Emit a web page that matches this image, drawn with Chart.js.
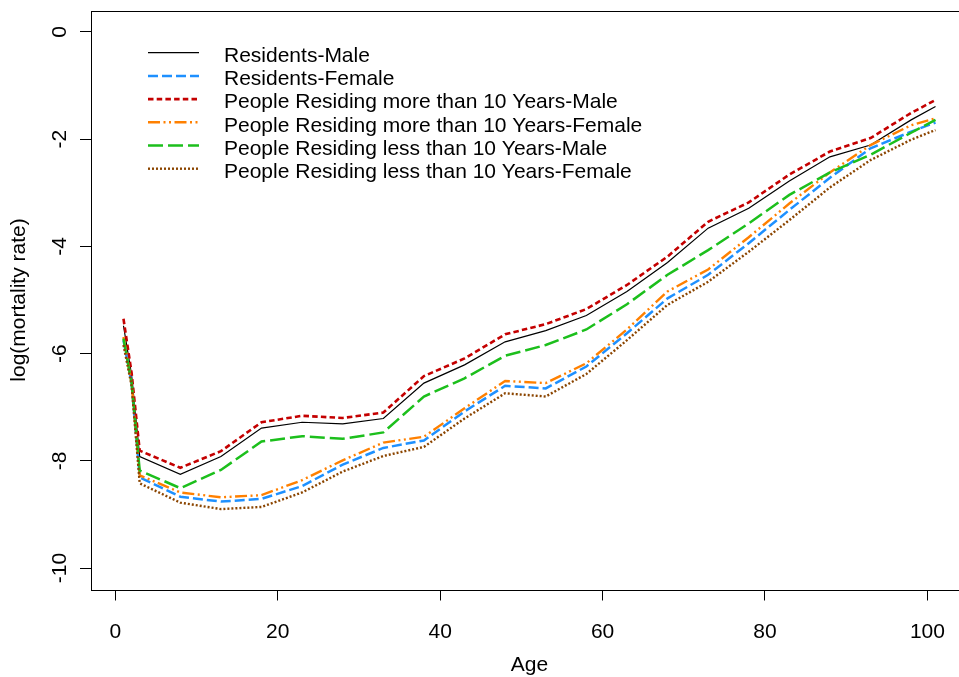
<!DOCTYPE html>
<html>
<head>
<meta charset="utf-8">
<title>log(mortality rate) by Age</title>
<script src="https://cdn.jsdelivr.net/npm/chart.js@4.4.1/dist/chart.umd.min.js"></script>
<style>
  html, body { margin: 0; padding: 0; background: #fff; }
  #wrap { width: 959px; height: 677px; overflow: hidden; position: relative; }
  #chart { display: block; }
</style>
</head>
<body>
<div id="wrap"><canvas id="chart" width="972" height="677"></canvas></div>
<script>
const ages = [1, 2, 3, 8, 13, 18, 23, 28, 33, 38, 43, 48, 53, 58, 63, 68, 73, 78, 83, 88, 93, 98, 101];

const residentsMale = [-5.48, -6.40, -7.92, -8.25, -7.92, -7.39, -7.28, -7.31, -7.21, -6.55, -6.21, -5.78,
  -5.57, -5.29, -4.84, -4.30, -3.66, -3.29, -2.78, -2.33, -2.11, -1.64, -1.39];
const residentsFemale = [-5.75, -6.55, -8.31, -8.67, -8.76, -8.71, -8.47, -8.07, -7.76, -7.62, -7.08, -6.60,
  -6.65, -6.24, -5.62, -4.97, -4.53, -3.94, -3.32, -2.72, -2.17, -1.86, -1.69];
const moreThan10Male = [-5.35, -6.36, -7.81, -8.13, -7.82, -7.28, -7.16, -7.20, -7.10, -6.42, -6.09, -5.64,
  -5.45, -5.17, -4.72, -4.19, -3.54, -3.18, -2.66, -2.23, -1.98, -1.51, -1.27];
const moreThan10Female = [-5.69, -6.55, -8.27, -8.59, -8.68, -8.64, -8.36, -7.99, -7.66, -7.55, -7.02, -6.51,
  -6.55, -6.18, -5.55, -4.84, -4.43, -3.83, -3.20, -2.62, -2.11, -1.74, -1.61];
const lessThan10Male = [-5.72, -6.55, -8.18, -8.51, -8.17, -7.64, -7.54, -7.59, -7.47, -6.80, -6.46, -6.04,
  -5.84, -5.55, -5.08, -4.53, -4.07, -3.57, -3.04, -2.62, -2.29, -1.88, -1.64];
const lessThan10Female = [-5.84, -6.60, -8.42, -8.78, -8.90, -8.86, -8.59, -8.20, -7.91, -7.74, -7.21, -6.74,
  -6.80, -6.38, -5.75, -5.09, -4.66, -4.10, -3.51, -2.90, -2.39, -2.01, -1.83];

const seriesNames = [
  'Residents-Male',
  'Residents-Female',
  'People Residing more than 10 Years-Male',
  'People Residing more than 10 Years-Female',
  'People Residing less than 10 Years-Male',
  'People Residing less than 10 Years-Female'
];
const xTicks = [0, 20, 40, 60, 80, 100];
const yTicks = [-10, -8, -6, -4, -2, 0];

const FONT = '"Liberation Sans", Arial, sans-serif';
const FS = 21;
Chart.defaults.font.family = FONT;
Chart.defaults.font.size = FS;
Chart.defaults.color = '#000';

const styles = [
  { color: '#000000', width: 1.2, dash: [] },
  { color: '#1E90FF', width: 2.5, dash: [10, 4] },
  { color: '#C40000', width: 2.6, dash: [5.5, 3.2] },
  { color: '#FF8000', width: 2.4, dash: [12, 3.5, 2, 3.5, 2, 3.5] },
  { color: '#1CBF1C', width: 2.5, dash: [15, 5] },
  { color: '#8B4500', width: 2.4, dash: [2, 2] }
];
const values = [residentsMale, residentsFemale, moreThan10Male, moreThan10Female, lessThan10Male, lessThan10Female];

const datasets = values.map((vals, i) => ({
  label: seriesNames[i],
  data: ages.map((a, j) => ({ x: a, y: vals[j] })),
  borderColor: styles[i].color,
  borderWidth: styles[i].width,
  borderDash: styles[i].dash,
  pointRadius: 0,
  tension: 0,
  fill: false,
  order: 6 - i
}));

// R style box around the plot region
const boxPlugin = {
  id: 'box',
  afterDraw(chart) {
    const { ctx, chartArea: a } = chart;
    ctx.save();
    ctx.strokeStyle = '#000';
    ctx.lineWidth = 1;
    ctx.strokeRect(Math.round(a.left) + 0.5, Math.round(a.top) + 0.5,
      Math.round(a.right - a.left), Math.round(a.bottom - a.top));
    ctx.restore();
  }
};

// legend drawn inside the plot, without a frame
const legendPlugin = {
  id: 'innerLegend',
  afterDatasetsDraw(chart) {
    const ctx = chart.ctx;
    const x0 = 148, x1 = 199, tx = 224, y0 = 52.7, step = 23.2;
    ctx.save();
    chart.data.datasets.forEach((ds, i) => {
      const y = y0 + i * step;
      ctx.beginPath();
      ctx.setLineDash(ds.borderDash);
      ctx.strokeStyle = ds.borderColor;
      ctx.lineWidth = ds.borderWidth;
      ctx.moveTo(x0, y);
      ctx.lineTo(x1, y);
      ctx.stroke();
      ctx.setLineDash([]);
      ctx.fillStyle = '#000';
      ctx.font = FS + 'px ' + FONT;
      ctx.textAlign = 'left';
      ctx.textBaseline = 'middle';
      ctx.fillText(ds.label, tx, y + 3.5);
    });
    ctx.restore();
  }
};

new Chart(document.getElementById('chart').getContext('2d'), {
  type: 'line',
  data: { datasets },
  options: {
    responsive: false,
    animation: false,
    devicePixelRatio: 1,
    layout: { padding: { top: 10.5, right: 4, left: 0, bottom: 0 } },
    plugins: { legend: { display: false }, tooltip: { enabled: false } },
    scales: {
      x: {
        type: 'linear',
        min: -3,
        max: 105,
        afterBuildTicks: s => { s.ticks = xTicks.map(v => ({ value: v })); },
        afterFit: s => { s.height = 87.5; s.paddingLeft = 0; s.paddingRight = 0; },
        border: { display: false },
        grid: { drawOnChartArea: false, drawTicks: true, tickLength: 11, color: '#000', lineWidth: 1 },
        ticks: { padding: 19, maxRotation: 0, autoSkip: false, callback: v => String(v) },
        title: { display: true, text: 'Age', font: { size: FS, lineHeight: 1 }, padding: { top: 0, bottom: 1 } }
      },
      y: {
        type: 'linear',
        min: -10.4,
        max: 0.4,
        afterBuildTicks: s => { s.ticks = yTicks.map(v => ({ value: v })); },
        afterFit: s => { s.width = 91; s.paddingTop = 0; s.paddingBottom = 0; },
        border: { display: false },
        grid: { drawOnChartArea: false, drawTicks: true, tickLength: 11, color: '#000', lineWidth: 1 },
        ticks: { padding: 5, minRotation: 90, maxRotation: 90, crossAlign: 'center', autoSkip: false, callback: v => String(v) },
        title: { display: true, text: 'log(mortality rate)', font: { size: FS, lineHeight: 1 }, padding: { top: 8.5, bottom: 0 } }
      }
    }
  },
  plugins: [boxPlugin, legendPlugin]
});
</script>
</body>
</html>
